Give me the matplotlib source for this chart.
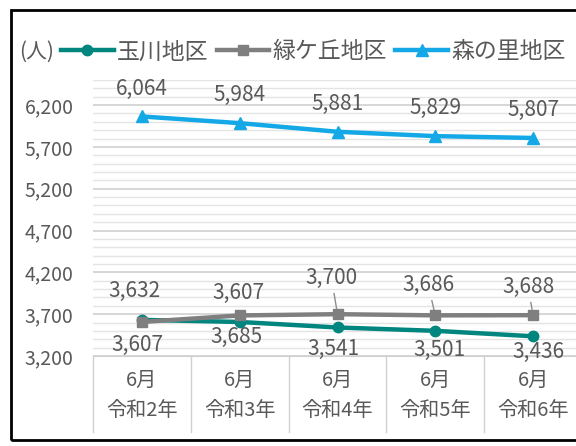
import matplotlib
matplotlib.use('Agg')
from matplotlib import pyplot as plt
from matplotlib.patches import Rectangle
from matplotlib.ticker import MultipleLocator

# データ
tsuki = ['6月', '6月', '6月', '6月', '6月']
nendo = ['令和2年', '令和3年', '令和4年', '令和5年', '令和6年']
tamagawa = [3632, 3607, 3541, 3501, 3436]
midorigaoka = [3607, 3685, 3700, 3686, 3688]
morinosato = [6064, 5984, 5881, 5829, 5807]
y_ticks = [3200, 3700, 4200, 4700, 5200, 5700, 6200]

# ラベル位置の調整 (ピクセル)
off_tama = [(-7, 29), (-1, 29), (-4, -21), (4, -19), (5, -16)]
off_mido = [(-4, -23), (-3, -22), (-6, 36), (-7, 30), (-5, 28)]
leader_mido = [False, False, True, True, True]

plt.rcParams['font.family'] = ['Noto Sans CJK JP', 'DejaVu Sans']
gris = '#595959'
c_tama = '#00857F'
c_mido = '#7F7F7F'
c_mori = '#14A9E6'

W, H = 576, 446
fig = plt.figure(figsize=(W / 100, H / 100), dpi=100)
ax = fig.add_axes([93 / W, (H - 356) / H, (582 - 93) / W, (356 - 80) / H])

x = list(range(len(nendo)))
l1, = ax.plot(x, tamagawa, color=c_tama, lw=3.2, marker='o', markersize=7.5, label='玉川地区', zorder=3)
l2, = ax.plot(x, midorigaoka, color=c_mido, lw=3.2, marker='s', markersize=7.5, label='緑ケ丘地区', zorder=4)
l3, = ax.plot(x, morinosato, color=c_mori, lw=3.2, marker='^', markersize=8, label='森の里地区', zorder=3)

ax.set_xlim(-0.5, len(nendo) - 0.5)
ax.set_ylim(3200, 6500)
ax.set_yticks(y_ticks, [f'{v:,}' for v in y_ticks])
ax.yaxis.set_minor_locator(MultipleLocator(100))
ax.grid(which='major', axis='y', color='#D0D0D0', lw=1.2)
ax.grid(which='minor', axis='y', color='#E4E4E4', lw=1)
ax.set_axisbelow(True)
ax.tick_params(axis='y', which='both', length=0, pad=14, labelsize=14, labelcolor=gris)
ax.set_xticks([])
for s in ['left', 'right', 'top']:
    ax.spines[s].set_visible(False)
ax.spines['bottom'].set_color('#D0D0D0')

# 項目軸 (二段)
tr = ax.get_xaxis_transform()
for i in range(len(nendo) + 1):
    ax.plot([i - 0.5, i - 0.5], [0, -0.275], transform=tr, color='#D0D0D0', lw=1, clip_on=False)
for i in x:
    ax.text(i, -0.09, tsuki[i], transform=tr, ha='center', va='center', fontsize=14.5, color=gris)
    ax.text(i, -0.198, nendo[i], transform=tr, ha='center', va='center', fontsize=14.5, color=gris)

# データラベル
pt = 0.72
fs = 15
for i, v in enumerate(morinosato):
    ax.annotate(f'{v:,}', (i, v), xytext=(0, 28 * pt), textcoords='offset points',
                ha='center', va='center', fontsize=fs, color=gris)
for i, v in enumerate(tamagawa):
    dx, dy = off_tama[i]
    ax.annotate(f'{v:,}', (i, v), xytext=(dx * pt, dy * pt), textcoords='offset points',
                ha='center', va='center', fontsize=fs, color=gris)
for i, v in enumerate(midorigaoka):
    dx, dy = off_mido[i]
    ap = dict(arrowstyle='-', color='#8C8C8C', lw=1, shrinkA=1, shrinkB=4) if leader_mido[i] else None
    ax.annotate(f'{v:,}', (i, v), xytext=(dx * pt, dy * pt), textcoords='offset points',
                ha='center', va='center', fontsize=fs, color=gris, arrowprops=ap)

# 凡例
fig.text(19 / W, 1 - 52 / H, '(人)', ha='left', va='center', fontsize=15, color=gris)
fig.legend(handles=[l1, l2, l3], loc='center left', bbox_to_anchor=(61 / W, 1 - 52 / H),
           ncol=3, frameon=False, fontsize=16.5, handlelength=2.3, handletextpad=0.15,
           columnspacing=0.35, borderpad=0, borderaxespad=0, labelcolor=gris)

# 外枠
fig.patches.append(Rectangle((11 / W, (H - 440) / H), 1.2, (440 - 10) / H,
                             transform=fig.transFigure, fill=False, lw=2, ec='black'))

fig.savefig('out.png', dpi=100)
